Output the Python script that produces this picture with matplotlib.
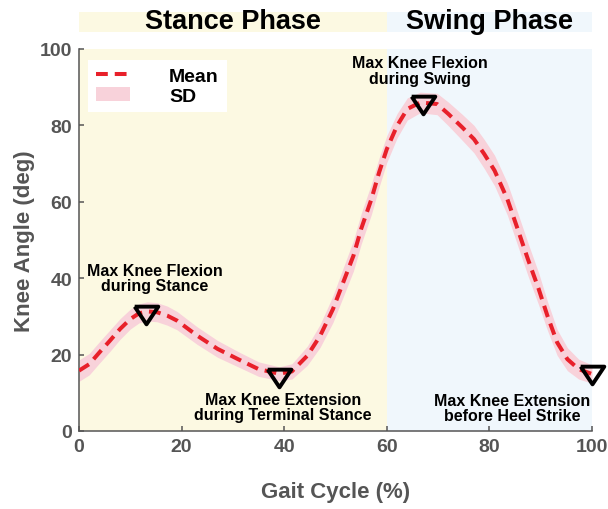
import numpy as np
import matplotlib
matplotlib.use("Agg")
import matplotlib.pyplot as plt
from matplotlib.patches import Rectangle

plt.rcParams["font.family"] = ["Liberation Sans", "DejaVu Sans"]
plt.rcParams["font.weight"] = "bold"
plt.rcParams["lines.scale_dashes"] = False

# ---- data ----
gait_pct = [0, 2, 4, 6, 8, 10, 11.7, 13.3, 15.2, 17.2, 19.1, 23, 27, 31, 35,
            39, 41.5, 44.5, 47, 49.5, 51.5, 53.5, 55, 57, 58.5, 60, 62, 64,
            66.5, 69.8, 72, 74.7, 77, 79, 81, 83.5, 85.5, 87.5, 89.6, 91.3,
            93.2, 95.2, 97.4, 100]
mean_angle = [15.8, 17.5, 20.6, 23.6, 26.7, 29.3, 30.8, 31.3, 31.1, 30.2,
              28.9, 25.0, 21.5, 18.8, 16.2, 15.0, 15.6, 19.7, 24.9, 31.9,
              38.9, 45.9, 52.9, 60.7, 67.7, 73.8, 79.9, 84.3, 86.0, 85.6,
              83.0, 79.5, 76.4, 72.5, 68.2, 60.7, 52.9, 45.0, 37.2, 30.2,
              23.2, 18.8, 16.2, 14.9]
sd_angle = [2.8, 2.8, 2.8, 2.8, 2.7, 2.6, 2.5, 2.5, 2.5, 2.5,
            2.4, 2.3, 2.2, 2.0, 1.9, 1.8, 2.0, 2.5, 3.0, 3.5,
            3.8, 4.0, 4.0, 4.0, 3.8, 3.5, 3.2, 2.9, 2.7, 2.8,
            3.1, 3.4, 3.6, 3.8, 4.0, 4.2, 4.3, 4.3, 4.2, 3.8,
            3.4, 3.0, 2.6, 2.4]

event_x = [13, 39, 67, 100]
event_y = [30.3, 13.9, 85.4, 14.6]
event_labels = ["Max Knee Flexion\nduring Stance",
                "Max Knee Extension\nduring Terminal Stance",
                "Max Knee Flexion\nduring Swing",
                "Max Knee Extension\nbefore Heel Strike"]
label_x = [14.8, 39.8, 66.4, 84.5]
label_y = [40.0, 6.3, 94.3, 6.0]

phase_names = ["Stance Phase", "Swing Phase"]
phase_start = [0, 60]
phase_end = [60, 100]
phase_colors = ["#FCF9E2", "#F0F7FC"]

GRAY = "#555555"

mean = np.array(mean_angle)
sd = np.array(sd_angle)

fig = plt.figure(figsize=(6.08, 5.10), dpi=100)
ax = fig.add_axes([79 / 608, 78 / 510, 513 / 608, 382 / 510])

# 背景：stance / swing
for s, e, c, name in zip(phase_start, phase_end, phase_colors, phase_names):
    ax.axvspan(s, e, color=c, lw=0, zorder=0)
    ax.add_patch(Rectangle((s, 104.4), e - s, 5.2, facecolor=c, lw=0,
                           clip_on=False, transform=ax.transData))
    ax.text((s + e) / 2, 107.3, name, ha="center", va="center",
            fontsize=19.5, fontweight="bold", color="black", clip_on=False)

ax.fill_between(gait_pct, mean - sd, mean + sd, color="#F8D2DA", lw=0,
                zorder=2, label="SD")
ax.plot(gait_pct, mean, color="#E8202A", lw=2.9, dashes=(8.5, 5),
        dash_joinstyle="round", zorder=3, label="Mean")

tri = [(-1, 0.75), (1, 0.75), (0, -0.75), (-1, 0.75)]
ax.plot(event_x, event_y, linestyle="none", marker=tri, markersize=17,
        markerfacecolor="none", markeredgecolor="black", markeredgewidth=2.8,
        zorder=4, clip_on=False)

for tx, ty, txt in zip(label_x, label_y, event_labels):
    ax.text(tx, ty, txt, ha="center", va="center", fontsize=11.5,
            fontweight="bold", color="black", linespacing=1.05, zorder=5)

ax.set_xlim(0, 100)
ax.set_ylim(0, 100)
ax.set_xticks(range(0, 101, 20))
ax.set_yticks(range(0, 101, 20))
for side in ["top", "right"]:
    ax.spines[side].set_visible(False)
for side in ["left", "bottom"]:
    ax.spines[side].set_color(GRAY)
    ax.spines[side].set_linewidth(1.1)
ax.tick_params(direction="in", length=3.5, width=1.1, color=GRAY,
               labelcolor=GRAY, labelsize=14, pad=5)
for lbl in ax.get_xticklabels() + ax.get_yticklabels():
    lbl.set_fontweight("bold")

ax.set_xlabel("Gait Cycle (%)", fontsize=16, fontweight="bold", color=GRAY)
ax.set_ylabel("Knee Angle (deg)", fontsize=16, fontweight="bold", color=GRAY)
ax.xaxis.set_label_coords(0.5, -0.13)
ax.yaxis.set_label_coords(-0.085, 0.5)

h, l = ax.get_legend_handles_labels()
leg = ax.legend(h[::-1], l[::-1], loc="upper left",
                bbox_to_anchor=(0.0185, 0.972), borderaxespad=0,
                fontsize=14, frameon=True, fancybox=False, framealpha=1,
                edgecolor="none", facecolor="white", handlelength=1.75,
                handletextpad=2.0, borderpad=0.4, labelspacing=0.1)
for t in leg.get_texts():
    t.set_fontweight("bold")

fig.savefig("out.png", dpi=100)
